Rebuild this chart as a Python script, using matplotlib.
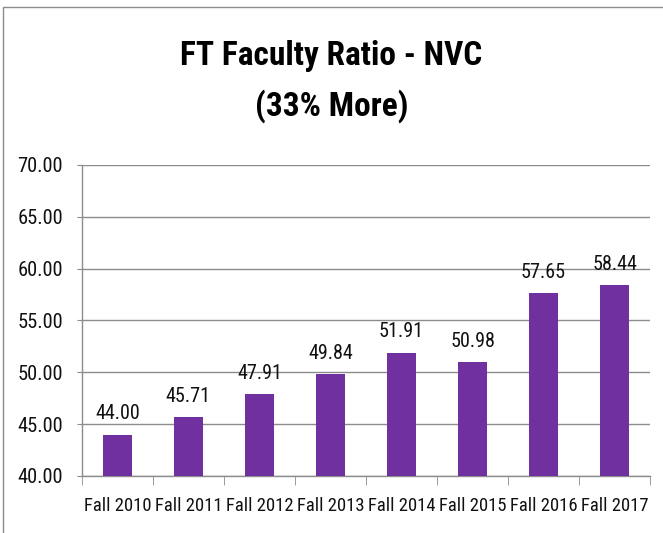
import matplotlib
matplotlib.use("Agg")
import matplotlib.pyplot as plt
from matplotlib.patches import Rectangle

categories = ["Fall 2010", "Fall 2011", "Fall 2012", "Fall 2013", "Fall 2014",
              "Fall 2015", "Fall 2016", "Fall 2017"]
values = [44.00, 45.71, 47.91, 49.84, 51.91, 50.98, 57.65, 58.44]
yticks = [40, 45, 50, 55, 60, 65, 70]

fam = ["Liberation Sans Narrow", "DejaVu Sans Condensed", "Roboto Condensed",
       "DejaVu Sans"]
plt.rcParams['font.family'] = fam
plt.rcParams['font.stretch'] = 'condensed'

W, H = 663, 533
fig = plt.figure(figsize=(W / 100, H / 100), dpi=100)
ax = fig.add_axes([82 / W, (H - 476) / H, (650 - 82) / W, (476 - 165) / H])

x = list(range(len(categories)))
ax.bar(x, values, width=0.4, color="#7030A0", zorder=3, bottom=0)
ax.set_ylim(40, 70)
ax.set_xlim(-0.5, len(categories) - 0.5)
ax.set_yticks(yticks)
ax.set_yticklabels([f"{v:.2f}" for v in yticks], fontsize=14.8, color="#111111")
ax.yaxis.grid(True, color="#8c8c8c", linewidth=1, zorder=0)
ax.set_axisbelow(True)

ax.set_xticks(x)
ax.set_xticklabels(categories, fontsize=13.4, color="#111111")
ax.tick_params(axis='x', length=0, pad=15)
ax.tick_params(axis='y', length=3.6, color="#8c8c8c", pad=10)
ax.set_xticks([i - 0.5 for i in range(len(categories) + 1)], minor=True)
ax.tick_params(axis='x', which='minor', length=6.5, color="#8c8c8c")

for s in ["top", "right"]:
    ax.spines[s].set_visible(False)
for s in ["left", "bottom"]:
    ax.spines[s].set_color("#8c8c8c")
    ax.spines[s].set_linewidth(1)

for xi, v in zip(x, values):
    ax.annotate(f"{v:.2f}", (xi, v), xytext=(0, 8), textcoords="offset points",
                ha="center", va="bottom", fontsize=14.5, color="#111111")

fig.text(0.5, (H - 56) / H, "FT Faculty Ratio - NVC", ha="center", va="center",
         fontsize=24, fontweight="bold")
fig.text(0.5, (H - 106) / H, "(33% More)", ha="center", va="center",
         fontsize=24, fontweight="bold")

fig.patches.append(Rectangle((3 / W, -0.1), 1.2, (H - 7) / H + 0.1,
                             transform=fig.transFigure, fill=False,
                             edgecolor="#8c8c8c", linewidth=1))

fig.savefig("out.png", dpi=100)
